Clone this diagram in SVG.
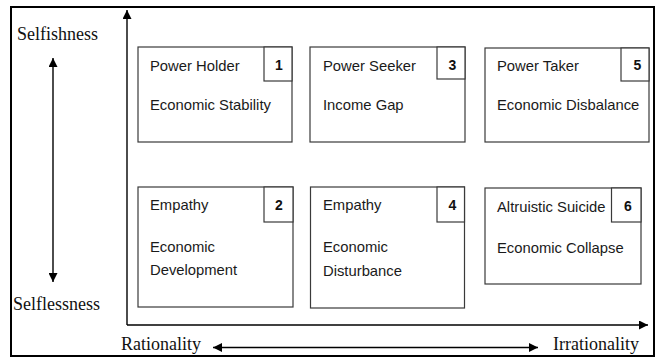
<svg xmlns="http://www.w3.org/2000/svg" width="657" height="358" viewBox="0 0 657 358">
<style>
.box{fill:#fff;stroke:#3a3a3a;stroke-width:1.2}
.nb{fill:#fff;stroke:#3a3a3a;stroke-width:1.2}
.t{font-family:"Liberation Sans",Arial,sans-serif;font-size:14.8px;fill:#1a1a1a}
.n{font-family:"Liberation Sans",Arial,sans-serif;font-size:14px;font-weight:bold;fill:#111;text-anchor:middle}
.s{font-family:"Liberation Serif","Times New Roman",serif;font-size:18px;fill:#111}
.ax{stroke:#000;stroke-width:1.4;fill:none}
</style>
<defs>
<marker id="ah" viewBox="0 0 10 10" refX="10" refY="5" markerWidth="9" markerHeight="9" markerUnits="userSpaceOnUse" orient="auto-start-reverse">
<path d="M0,0 L10,5 L0,10 z" fill="#000"/>
</marker>
</defs>
<rect x="0" y="0" width="657" height="358" fill="#fff"/>
<rect x="11" y="7" width="643" height="349" fill="none" stroke="#000" stroke-width="2"/>
<g id="connectors">
<path class="ax" d="M127,325 L127,10" marker-end="url(#ah)"/>
<path class="ax" d="M127,325 L648,325" marker-end="url(#ah)"/>
<path class="ax" d="M53,58 L53,282" marker-start="url(#ah)" marker-end="url(#ah)"/>
<path class="ax" d="M213,347.5 L538,347.5" marker-start="url(#ah)" marker-end="url(#ah)"/>
</g>
<g id="labels">
<text class="s" x="17" y="40">Selfishness</text>
<text class="s" x="13" y="310">Selflessness</text>
<text class="s" x="121" y="350">Rationality</text>
<text class="s" x="553" y="350">Irrationality</text>
</g>
<g id="node1">
<rect class="box" x="138" y="47" width="154" height="95"/>
<rect class="nb" x="264" y="47" width="28" height="34"/>
<text class="n" x="279" y="70">1</text>
<text class="t" x="150" y="70.5">Power Holder</text>
<text class="t" x="150" y="110">Economic Stability</text>
</g>
<g id="node3">
<rect class="box" x="310" y="47" width="155" height="95"/>
<rect class="nb" x="437" y="47" width="28" height="32"/>
<text class="n" x="452.5" y="70">3</text>
<text class="t" x="323" y="70.5">Power Seeker</text>
<text class="t" x="323" y="110">Income Gap</text>
</g>
<g id="node5">
<rect class="box" x="485" y="48" width="164" height="94"/>
<rect class="nb" x="621" y="48" width="28" height="33"/>
<text class="n" x="637.5" y="70">5</text>
<text class="t" x="497" y="71">Power Taker</text>
<text class="t" x="497" y="110">Economic Disbalance</text>
</g>
<g id="node2">
<rect class="box" x="138" y="187" width="155" height="120"/>
<rect class="nb" x="264" y="187" width="29" height="35"/>
<text class="n" x="279" y="210">2</text>
<text class="t" x="150" y="210">Empathy</text>
<text class="t" x="150" y="251.5">Economic</text>
<text class="t" x="150" y="275">Development</text>
</g>
<g id="node4">
<rect class="box" x="310.5" y="187" width="154" height="121"/>
<rect class="nb" x="437" y="187" width="27.5" height="35"/>
<text class="n" x="452.5" y="210">4</text>
<text class="t" x="323" y="210">Empathy</text>
<text class="t" x="323" y="251.5">Economic</text>
<text class="t" x="323" y="276">Disturbance</text>
</g>
<g id="node6">
<rect class="box" x="485" y="188" width="156" height="96"/>
<rect class="nb" x="611.5" y="188" width="29.5" height="34"/>
<text class="n" x="628" y="211">6</text>
<text class="t" x="497" y="212">Altruistic Suicide</text>
<text class="t" x="497" y="253">Economic Collapse</text>
</g>
</svg>
